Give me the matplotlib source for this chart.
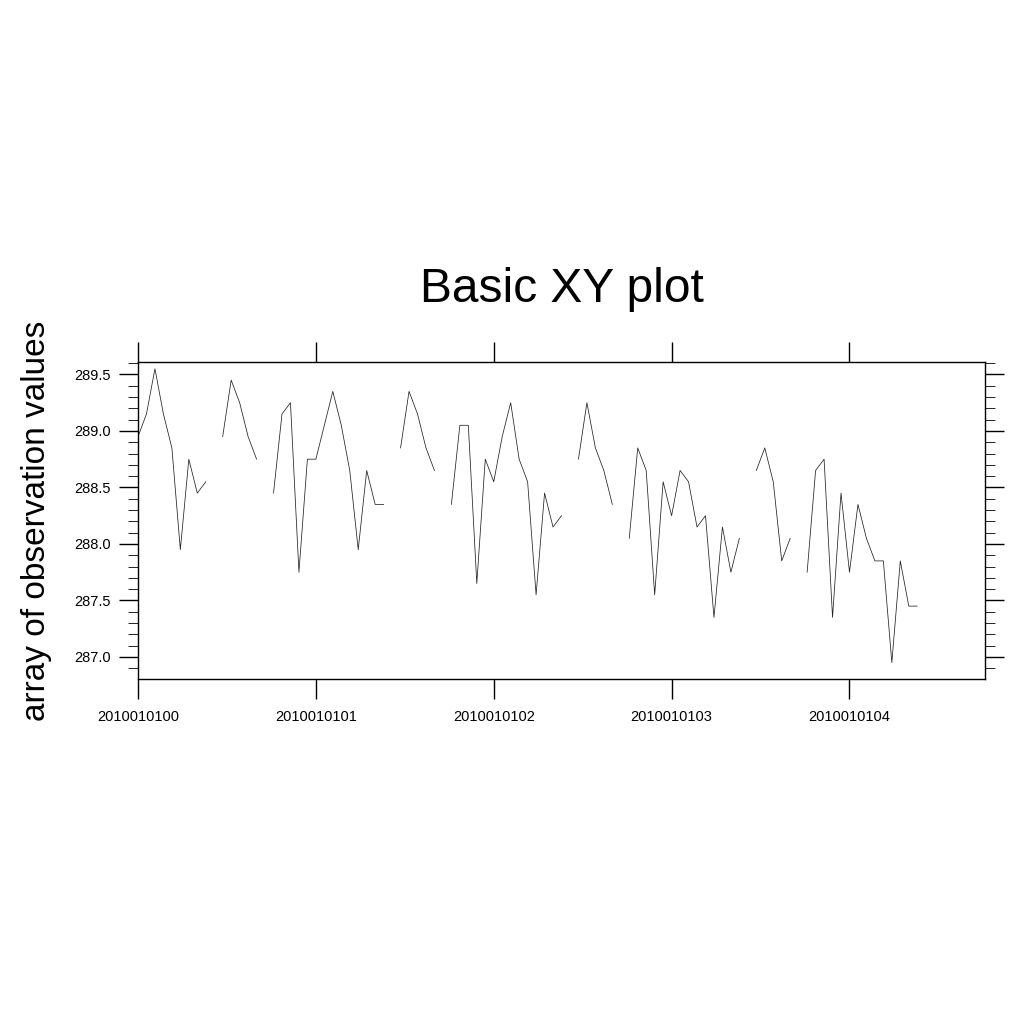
import numpy as np
import matplotlib.pyplot as plt
from matplotlib.ticker import MultipleLocator

plt.rcParams['font.family'] = ['Liberation Sans', 'DejaVu Sans']

nan = np.nan
# observation values, one every sample, nan = missing
obs = [288.95, 289.15, 289.55, 289.15, 288.85, 287.95, 288.75, 288.45, 288.55, nan,
       288.95, 289.45, 289.25, 288.95, 288.75, nan,
       288.45, 289.15, 289.25, 287.75, 288.75, 288.75, 289.05, 289.35, 289.05, 288.65,
       287.95, 288.65, 288.35, 288.35, nan,
       288.85, 289.35, 289.15, 288.85, 288.65, nan,
       288.35, 289.05, 289.05, 287.65, 288.75, 288.55, 288.95, 289.25, 288.75, 288.55,
       287.55, 288.45, 288.15, 288.25, nan,
       288.75, 289.25, 288.85, 288.65, 288.35, nan,
       288.05, 288.85, 288.65, 287.55, 288.55, 288.25, 288.65, 288.55, 288.15, 288.25,
       287.35, 288.15, 287.75, 288.05, nan,
       288.65, 288.85, 288.55, 287.85, 288.05, nan,
       287.75, 288.65, 288.75, 287.35, 288.45, 287.75, 288.35, 288.05, 287.85, 287.85,
       286.95, 287.85, 287.45, 287.45]
x = np.arange(len(obs))

tick_pos = [0, 21, 42, 63, 84]
tick_labels = ['2010010100', '2010010101', '2010010102', '2010010103', '2010010104']

fig = plt.figure(figsize=(10.24, 10.24), dpi=100)
ax = fig.add_axes([138/1024, 1 - 679/1024, (985 - 138)/1024, (679 - 362)/1024])

ax.plot(x, obs, color='#222222', lw=0.55)

ax.set_xlim(0, 100)
ax.set_ylim(286.805, 289.61)

ax.set_xticks(tick_pos)
ax.set_xticklabels(tick_labels, fontsize=10.5)
ax.tick_params(axis='x', which='both', direction='out', length=14.5, width=1.0,
               top=True, bottom=True, pad=8)

ax.yaxis.set_major_locator(MultipleLocator(0.5))
ax.yaxis.set_minor_locator(MultipleLocator(0.1))
ax.yaxis.set_major_formatter(plt.FormatStrFormatter('%.1f'))
ax.tick_params(axis='y', which='major', direction='out', length=13.5, width=1.0,
               left=True, right=True, labelsize=10.5, pad=6)
ax.tick_params(axis='y', which='minor', direction='out', length=7, width=0.6,
               left=True, right=True)

for sp in ax.spines.values():
    sp.set_linewidth(1.0)

ax.set_title('Basic XY plot', fontsize=34.5, pad=43)
ax.set_ylabel('array of observation values', fontsize=24, labelpad=16)

fig.savefig('out.png', dpi=100)
